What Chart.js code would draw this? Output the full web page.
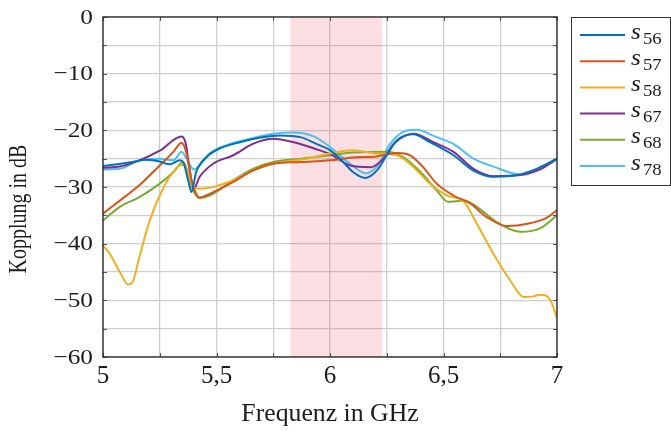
<!DOCTYPE html>
<html>
<head>
<meta charset="utf-8">
<script src="https://cdn.jsdelivr.net/npm/chart.js@4.4.1/dist/chart.umd.min.js"></script>
<style>
  html, body { margin: 0; padding: 0; background: #fff; }
  #wrap { width: 671px; height: 431px; }
</style>
</head>
<body>
<div id="wrap"><canvas id="kopplung" width="671" height="431"></canvas></div>
<script>
const s56 = [[5.0,-26.3],[5.13,-25.6],[5.19,-25.2],[5.25,-25.5],[5.294,-26.0],[5.338,-25.3],[5.353,-25.6],[5.375,-28.8],[5.39,-30.9],[5.41,-27.4],[5.456,-24.7],[5.515,-23.2],[5.603,-22.1],[5.69,-21.3],[5.78,-20.9],[5.87,-21.2],[5.94,-22.4],[6.0,-23.5],[6.044,-25.0],[6.103,-27.4],[6.154,-28.4],[6.206,-27.1],[6.25,-24.4],[6.294,-21.8],[6.368,-20.7],[6.44,-22.1],[6.544,-24.4],[6.632,-27.1],[6.72,-28.2],[6.824,-27.9],[6.91,-26.8],[7.0,-25.0]];
const s57 = [[5.0,-34.7],[5.074,-32.4],[5.16,-29.7],[5.25,-26.2],[5.31,-23.8],[5.346,-22.2],[5.368,-24.1],[5.39,-28.8],[5.41,-31.2],[5.426,-31.9],[5.47,-31.2],[5.574,-29.1],[5.66,-27.1],[5.75,-25.9],[5.87,-25.6],[6.0,-25.3],[6.1,-24.8],[6.206,-24.6],[6.294,-24.0],[6.353,-24.4],[6.41,-26.5],[6.47,-29.4],[6.544,-31.5],[6.618,-32.9],[6.69,-35.3],[6.78,-36.9],[6.87,-36.5],[6.956,-35.4],[7.0,-34.1]];
const s58 = [[5.0,-40.3],[5.03,-41.8],[5.074,-45.0],[5.11,-47.2],[5.13,-46.8],[5.16,-42.4],[5.206,-35.9],[5.25,-31.5],[5.294,-28.2],[5.338,-26.2],[5.353,-26.1],[5.375,-27.6],[5.40,-30.1],[5.426,-30.3],[5.485,-30.0],[5.574,-28.8],[5.66,-27.1],[5.75,-25.9],[5.87,-25.2],[6.0,-24.1],[6.1,-23.5],[6.206,-24.1],[6.294,-24.4],[6.368,-26.5],[6.44,-29.4],[6.515,-31.5],[6.59,-32.6],[6.647,-36.5],[6.72,-41.8],[6.794,-46.5],[6.853,-49.4],[6.897,-49.3],[6.926,-49.0],[6.97,-49.9],[7.0,-53.2]];
const s67 = [[5.0,-26.6],[5.074,-26.4],[5.16,-25.3],[5.25,-23.6],[5.346,-21.1],[5.365,-22.4],[5.38,-26.5],[5.40,-30.3],[5.426,-28.2],[5.485,-25.9],[5.574,-24.4],[5.66,-22.4],[5.75,-21.5],[5.84,-22.1],[5.93,-23.2],[6.0,-24.2],[6.09,-26.2],[6.18,-26.5],[6.235,-25.0],[6.28,-22.4],[6.368,-20.6],[6.456,-22.1],[6.544,-23.8],[6.632,-26.8],[6.72,-28.1],[6.84,-27.9],[6.93,-26.8],[7.0,-25.0]];
const s68 = [[5.0,-35.9],[5.074,-33.5],[5.16,-31.8],[5.25,-29.4],[5.31,-27.4],[5.353,-25.6],[5.375,-27.6],[5.397,-30.6],[5.426,-31.9],[5.47,-31.5],[5.574,-28.8],[5.66,-26.8],[5.75,-25.6],[5.87,-25.0],[6.0,-24.4],[6.1,-23.9],[6.25,-23.8],[6.32,-24.7],[6.4,-27.4],[6.47,-30.6],[6.52,-32.6],[6.59,-32.4],[6.647,-33.5],[6.735,-36.2],[6.84,-37.9],[6.93,-37.2],[7.0,-35.0]];
const s78 = [[5.0,-26.9],[5.074,-26.8],[5.16,-25.3],[5.25,-25.0],[5.31,-25.3],[5.346,-23.8],[5.368,-25.0],[5.40,-26.9],[5.426,-26.2],[5.47,-24.1],[5.544,-22.6],[5.647,-21.5],[5.75,-20.6],[5.84,-20.4],[5.93,-21.1],[6.0,-22.9],[6.07,-25.3],[6.16,-27.6],[6.21,-26.2],[6.265,-22.4],[6.32,-20.3],[6.38,-19.9],[6.47,-21.2],[6.544,-22.4],[6.632,-25.0],[6.72,-26.4],[6.84,-27.8],[6.91,-27.1],[7.0,-25.2]];

const seriesNames = ['56', '57', '58', '67', '68', '78'];
const seriesData = [s56, s57, s58, s67, s68, s78];
const seriesColors = ['#0072BD', '#D95319', '#EDB120', '#7E2F8E', '#77AC30', '#4DBEEE'];

// markierter Frequenzbereich (GHz)
const band = [5.825, 6.23];

const xTicks = [5, 5.5, 6, 6.5, 7];
const yTicks = [0, -10, -20, -30, -40, -50, -60];
const xTitel = 'Frequenz in GHz';
const yTitel = 'Kopplung in dB';

const serif = '"Liberation Serif", "DejaVu Serif", serif';
const textFarbe = '#1c1c1c';

// Text mit horizontaler Streckung zeichnen
function textGestreckt(ctx, txt, x, y, sx, align) {
    ctx.save();
    ctx.translate(x, y);
    ctx.scale(sx, 1);
    ctx.textAlign = align;
    ctx.fillText(txt, 0, 0);
    ctx.restore();
}

// Hintergrundband, Rahmen, Beschriftung und Legende
const rahmenPlugin = {
    id: 'rahmen',
    beforeDatasetsDraw(chart) {
        const { ctx, chartArea: a, scales: { x } } = chart;
        const x0 = x.getPixelForValue(band[0]);
        const x1 = x.getPixelForValue(band[1]);
        ctx.save();
        ctx.fillStyle = 'rgba(240, 80, 100, 0.18)';
        ctx.fillRect(x0, a.top, x1 - x0, a.bottom - a.top);
        ctx.restore();
    },
    afterDraw(chart) {
        const { ctx, chartArea: a, scales: { x, y } } = chart;
        ctx.save();
        // kleine Ticks innen
        ctx.strokeStyle = '#555';
        ctx.lineWidth = 1;
        ctx.beginPath();
        x.ticks.forEach(t => {
            const px = Math.round(x.getPixelForValue(t.value)) + 0.5;
            ctx.moveTo(px, a.bottom); ctx.lineTo(px, a.bottom - 4);
            ctx.moveTo(px, a.top); ctx.lineTo(px, a.top + 4);
        });
        y.ticks.forEach(t => {
            const py = Math.round(y.getPixelForValue(t.value)) + 0.5;
            ctx.moveTo(a.left, py); ctx.lineTo(a.left + 4, py);
            ctx.moveTo(a.right, py); ctx.lineTo(a.right - 4, py);
        });
        ctx.stroke();
        // Rahmen
        ctx.strokeStyle = '#222';
        ctx.lineWidth = 1.3;
        ctx.strokeRect(a.left, a.top, a.right - a.left, a.bottom - a.top);

        // Achsenbeschriftung
        ctx.fillStyle = textFarbe;
        ctx.textBaseline = 'middle';
        ctx.font = '22px ' + serif;
        yTicks.forEach(v => {
            const txt = v < 0 ? '\u2212' + Math.abs(v) : String(v);
            textGestreckt(ctx, txt, a.left - 10, y.getPixelForValue(v) + 1, 1.15, 'right');
        });
        ctx.textBaseline = 'alphabetic';
        ctx.font = '25px ' + serif;
        xTicks.forEach(v => {
            textGestreckt(ctx, String(v).replace('.', ','), x.getPixelForValue(v), a.bottom + 26, 1, 'center');
        });
        ctx.font = '25px ' + serif;
        textGestreckt(ctx, xTitel, (a.left + a.right) / 2, 421, 1.03, 'center');
        ctx.save();
        ctx.translate(26, (a.top + a.bottom) / 2 + 22);
        ctx.rotate(-Math.PI / 2);
        ctx.scale(0.8, 1);
        ctx.textAlign = 'center';
        ctx.fillText(yTitel, 0, 0);
        ctx.restore();

        // Legende
        const lx = 571, ly = 17, lw = 99, lh = 168;
        ctx.fillStyle = '#fff';
        ctx.fillRect(lx, ly, lw, lh);
        ctx.strokeStyle = '#333';
        ctx.lineWidth = 1;
        ctx.strokeRect(lx + 0.5, ly + 0.5, lw, lh);
        seriesNames.forEach((n, i) => {
            const cy = 35 + i * 26.2;
            ctx.strokeStyle = seriesColors[i];
            ctx.lineWidth = 2;
            ctx.beginPath();
            ctx.moveTo(580, cy); ctx.lineTo(625, cy);
            ctx.stroke();
            ctx.fillStyle = textFarbe;
            ctx.textBaseline = 'alphabetic';
            ctx.font = 'italic 23px ' + serif;
            textGestreckt(ctx, 's', 631, cy + 3.5, 1.1, 'left');
            ctx.font = '17px ' + serif;
            textGestreckt(ctx, n, 643, cy + 8.5, 1.1, 'left');
        });
        ctx.restore();
    }
};

const datasets = seriesData.map((d, i) => ({
    label: 's' + seriesNames[i],
    data: d.map(p => ({ x: p[0], y: p[1] })),
    borderColor: seriesColors[i],
    backgroundColor: seriesColors[i],
    borderWidth: 2,
    pointRadius: 0,
    cubicInterpolationMode: 'monotone',
    fill: false
}));

new Chart(document.getElementById('kopplung'), {
    type: 'line',
    data: { datasets },
    options: {
        responsive: false,
        animation: false,
        layout: { padding: { top: 17, right: 114, left: 0, bottom: 0 } },
        plugins: { legend: { display: false }, tooltip: { enabled: false } },
        scales: {
            x: {
                type: 'linear',
                min: 5, max: 7,
                afterFit: s => { s.height = 74; },
                afterBuildTicks: s => {
                    const t = [];
                    for (let v = 5; v <= 7.0001; v += 0.25) t.push({ value: +v.toFixed(2) });
                    s.ticks = t;
                },
                grid: { color: '#cfcfcf', lineWidth: 1.3, drawTicks: false },
                border: { display: false },
                ticks: { display: false }
            },
            y: {
                min: -60, max: 0,
                afterFit: s => { s.width = 103; },
                afterBuildTicks: s => {
                    const t = [];
                    for (let v = -60; v <= 0; v += 5) t.push({ value: v });
                    s.ticks = t;
                },
                grid: { color: '#cfcfcf', lineWidth: 1.3, drawTicks: false },
                border: { display: false },
                ticks: { display: false }
            }
        }
    },
    plugins: [rahmenPlugin]
});
</script>
</body>
</html>
